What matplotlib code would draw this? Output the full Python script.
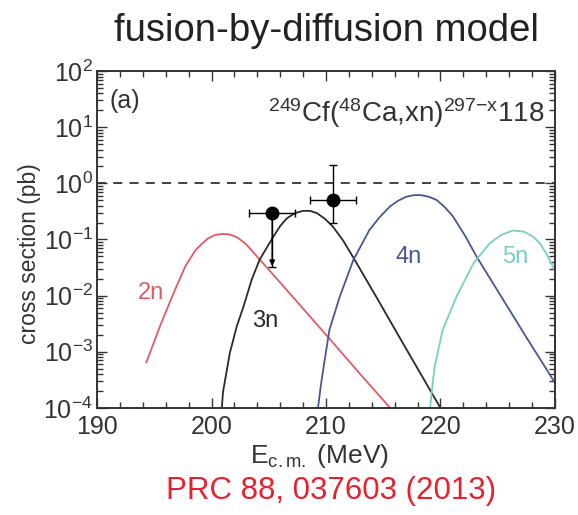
import numpy as np
import matplotlib.pyplot as plt
from matplotlib.ticker import MultipleLocator, LogLocator, NullFormatter

plt.rcParams['font.family'] = ['Liberation Sans', 'DejaVu Sans']
plt.rcParams['mathtext.fontset'] = 'custom'
plt.rcParams['mathtext.rm'] = 'Liberation Sans'
plt.rcParams['mathtext.it'] = 'Liberation Sans:italic'

# curves: energy (MeV) and log10(cross section / pb)
e_2n = [194.3, 195.6, 196.8, 197.7, 198.6, 199.2, 199.7, 200.3, 201.0, 201.6, 202.3, 203.0, 203.7,
        205.1, 207.0, 210.1, 213.0, 215.6]
l_2n = [-3.19, -2.49, -1.90, -1.48, -1.19, -1.07, -0.98, -0.92, -0.90, -0.91, -0.97, -1.08, -1.24,
        -1.56, -2.0, -2.72, -3.4, -4.0]

e_3n = [200.9, 201.0, 201.6, 202.2, 202.8, 203.5, 204.2, 205.4, 206.0, 206.6, 207.3, 208.0, 208.6,
        209.2, 209.9, 210.6, 211.5, 212.5, 214.5, 216.5, 219.4, 220.0]
l_3n = [-4.0, -3.72, -3.02, -2.55, -2.19, -1.72, -1.36, -0.95, -0.76, -0.62, -0.53, -0.49, -0.49,
        -0.53, -0.63, -0.77, -1.02, -1.36, -2.06, -2.77, -3.79, -4.0]

e_4n = [209.3, 209.55, 209.8, 210.3, 211.2, 212.4, 213.8, 214.7, 215.6, 216.3, 217.0, 217.7, 218.3,
        219.0, 219.7, 220.4, 221.1, 222.2, 223.2, 225.2, 227.5, 230.0]
l_4n = [-4.0, -3.6, -3.26, -2.61, -2.02, -1.36, -0.83, -0.60, -0.41, -0.31, -0.24, -0.21, -0.21,
        -0.24, -0.30, -0.43, -0.59, -0.95, -1.32, -1.98, -2.74, -3.55]

e_5n = [219.1, 219.3, 219.5, 220.2, 221.4, 222.9, 224.3, 225.3, 226.3, 227.3, 228.1, 228.7, 229.3, 230.0]
l_5n = [-4.0, -3.6, -3.26, -2.61, -2.02, -1.42, -1.07, -0.92, -0.84, -0.86, -0.95, -1.07, -1.27, -1.55]

# measured points
exp_e = [205.3, 210.6]
exp_s = [0.30, 0.50]
exp_xerr = [2.0, 2.0]
exp_ylo = [0.30 - 0.032, 0.50 - 0.195]
exp_yhi = [0.0, 2.1 - 0.50]

fig = plt.figure(figsize=(5.78, 5.15), dpi=100)
ax = fig.add_axes([0.168, 0.208, 0.792, 0.654])

ax.plot(e_2n, 10 ** np.array(l_2n), color='#e05a64', lw=1.3)
ax.plot(e_3n, 10 ** np.array(l_3n), color='#2a2a2a', lw=1.3)
ax.plot(e_4n, 10 ** np.array(l_4n), color='#4a5592', lw=1.3)
ax.plot(e_5n, 10 ** np.array(l_5n), color='#78cfc4', lw=1.3)

ax.axhline(1.0, color='#333333', lw=1.3, ls=(0, (5, 4)))

ax.errorbar(exp_e, exp_s, xerr=exp_xerr, yerr=[exp_ylo, exp_yhi], fmt='o',
            color='black', ms=9, elinewidth=1.0, capsize=3, capthick=1.0, zorder=5)
# upper-limit arrow on the first point
ax.annotate('', xy=(exp_e[0], 0.03), xytext=(exp_e[0], 0.30),
            arrowprops=dict(arrowstyle='-|>', color='black', lw=1.0, mutation_scale=8))

ax.text(194.7, 10 ** -1.95, '2n', color='#e05a64', fontsize=17, ha='center', va='center')
ax.text(204.7, 10 ** -2.45, '3n', color='#2a2a2a', fontsize=17, ha='center', va='center')
ax.text(217.2, 10 ** -1.32, '4n', color='#4a5592', fontsize=17, ha='center', va='center')
ax.text(226.5, 10 ** -1.32, '5n', color='#78cfc4', fontsize=17, ha='center', va='center')

ax.text(0.028, 0.912, '(a)', transform=ax.transAxes, fontsize=18, color='#333333', va='center')
ax.text(0.978, 0.925, r'$^{249}$Cf($^{48}$Ca,xn)$^{297\mathrm{-x}}$118', transform=ax.transAxes,
        fontsize=20, color='#333333', ha='right', va='top')

ax.set_yscale('log')
ax.set_xlim(190, 230)
ax.set_ylim(1e-4, 1e2)
ax.xaxis.set_major_locator(MultipleLocator(10))
ax.xaxis.set_minor_locator(MultipleLocator(2))
ax.yaxis.set_major_locator(LogLocator(base=10, numticks=10))
ax.yaxis.set_minor_locator(LogLocator(base=10, subs=np.arange(2, 10), numticks=20))
ax.yaxis.set_minor_formatter(NullFormatter())
ax.tick_params(which='both', direction='in', top=True, right=True, colors='#333333',
               labelsize=18, width=1.0)
ax.tick_params(which='major', length=7)
ax.tick_params(which='minor', length=4)
ax.tick_params(axis='x', pad=5)
ax.tick_params(axis='y', pad=3)
for s in ax.spines.values():
    s.set_linewidth(1.4)
    s.set_color('#333333')

ax.set_xlabel(r'E$_{\mathrm{c.m.}}$ (MeV)', fontsize=19, color='#333333', labelpad=0)
ax.xaxis.set_label_coords(0.485, -0.1)
ax.xaxis.label.set_va('top')
ax.set_ylabel('cross section (pb)', fontsize=16.5, color='#333333')
ax.yaxis.set_label_coords(-0.122, 0.457)

fig.text(0.565, 0.94, 'fusion-by-diffusion model', fontsize=27.5, color='#222222', ha='center', va='center')
fig.text(0.572, 0.046, 'PRC 88, 037603 (2013)', fontsize=22.5, color='#e8202e', ha='center', va='center')

plt.savefig('out.png', dpi=100)
